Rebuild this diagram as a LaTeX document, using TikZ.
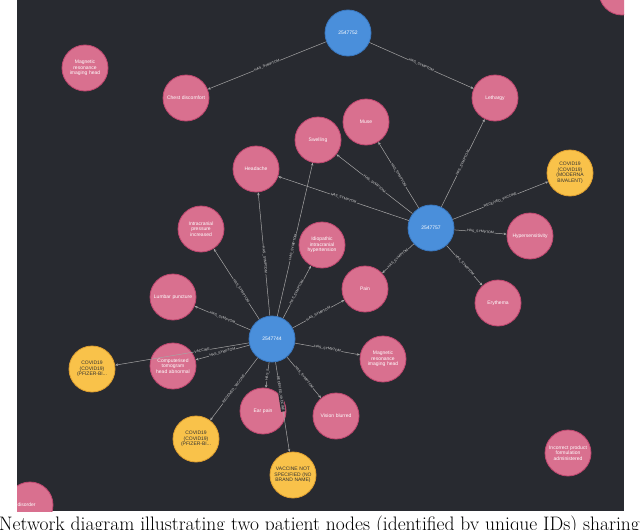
\documentclass[tikz,border=0pt]{standalone}
\usepackage{fontspec}
\setsansfont{Liberation Sans}
\hyphenpenalty=10000
\exhyphenpenalty=10000
\begin{document}
\begin{tikzpicture}[x=1pt,y=-1pt,
 every node/.style={inner sep=0pt},
 pk/.style={circle,minimum size=46pt,fill=pinkc,draw=pinkd,line width=0.8pt,text=white,font=\sffamily\fontsize{5}{5.5}\selectfont,align=center,text width=40pt},
 bl/.style={circle,minimum size=46pt,fill=bluec,draw=blued,line width=0.8pt,text=white,font=\sffamily\fontsize{5}{5.5}\selectfont},
 yl/.style={circle,minimum size=46pt,fill=yelc,draw=yeld,line width=0.8pt,text=black!80,font=\sffamily\fontsize{5}{5.5}\selectfont,align=center,text width=40pt},
 ed/.style={draw=gray!70,line width=0.5pt,-{Stealth[length=3pt,width=2.5pt]}},
 lb/.style={font=\sffamily\fontsize{3.5}{4}\selectfont,text=white!85!black,fill=bgc,inner sep=0.6pt,sloped}]
\hyphenpenalty=10000
\definecolor{bgc}{HTML}{282A30}
\definecolor{pinkc}{HTML}{D9708F}
\definecolor{pinkd}{HTML}{C04870}
\definecolor{bluec}{HTML}{4A8FDB}
\definecolor{blued}{HTML}{3A78C0}
\definecolor{yelc}{HTML}{F9C24A}
\definecolor{yeld}{HTML}{E0A030}
\usetikzlibrary{arrows.meta}
\useasboundingbox (0,0) rectangle (640,530);
\clip (0,0) rectangle (640,530);
\fill[white] (0,0) rectangle (640,530);
\fill[bgc] (17,0) rectangle (624,511);
\begin{scope}
\clip (17,0) rectangle (624,511);
\node[pk] (tr) at (622,-8) {};
\node[pk] (bleft) at (30,505) {\hspace*{-14pt}ral disorder};
\end{scope}
\node[bl] (a) at (348,33) {2547752};
\node[bl] (b) at (431,228) {2547757};
\node[bl] (c) at (272,339) {2547744};
\node[pk] (chest) at (186,98) {Chest discomfort};
\node[pk] (leth) at (495,98) {Lethargy};
\node[pk] (mri1) at (85,68) {Magnetic resonance imaging head};
\node[pk] (muse) at (366,122) {Muse};
\node[pk] (swel) at (318,140) {Swelling};
\node[pk] (head) at (256,169) {Headache};
\node[yl] (mod) at (570,173) {COVID19 (COVID19) (MODERNA BIVALENT)};
\node[pk] (hyp) at (530,236) {Hypersensitivity};
\node[pk] (ery) at (498,303) {Erythema};
\node[pk] (icp) at (201,229) {Intracranial pressure increased};
\node[pk] (iih) at (322,245) {Idiopathic intracranial hypertension};
\node[pk] (pain) at (365,289) {Pain};
\node[pk] (lum) at (173,297) {Lumbar puncture};
\node[yl] (pf1) at (92,369) {COVID19 (COVID19) (PFIZER-BI...};
\node[pk] (ct) at (173,366) {Computerised tomogram head abnormal};
\node[pk] (mri2) at (383,359) {Magnetic resonance imaging head};
\node[pk] (ear) at (263,411) {Ear pain};
\node[pk] (vis) at (336,416) {Vision blurred};
\node[yl] (pf2) at (196,439) {COVID19 (COVID19) (PFIZER-BI...};
\node[yl] (vns) at (293,475) {VACCINE NOT SPECIFIED (NO BRAND NAME)};
\node[pk] (inc) at (568,453) {Incorrect product formulation administered};
% edges
\draw[ed] (a) -- node[lb]{HAS\_SYMPTOM} (chest);
\draw[ed] (a) -- node[lb]{HAS\_SYMPTOM} (leth);
\draw[ed] (b) -- node[lb]{HAS\_SYMPTOM} (leth);
\draw[ed] (b) -- node[lb]{HAS\_SYMPTOM} (muse);
\draw[ed] (b) -- node[lb]{HAS\_SYMPTOM} (swel);
\draw[ed] (b) -- node[lb]{HAS\_SYMPTOM} (head);
\draw[ed] (b) -- node[lb]{RECEIVED\_VACCINE} (mod);
\draw[ed] (b) -- node[lb]{HAS\_SYMPTOM} (hyp);
\draw[ed] (b) -- node[lb]{HAS\_SYMPTOM} (ery);
\draw[ed] (b) -- node[lb]{HAS\_SYMPTOM} (pain);
\draw[ed] (c) -- node[lb,pos=0.4]{HAS\_SYMPTOM} (icp);
\draw[ed] (c) -- node[lb,pos=0.45]{HAS\_SYMPTOM} (head);
\draw[ed] (c) -- node[lb,pos=0.45]{HAS\_SYMPTOM} (swel);
\draw[ed] (c) -- node[lb]{HAS\_SYMPTOM} (iih);
\draw[ed] (c) -- node[lb]{HAS\_SYMPTOM} (pain);
\draw[ed] (c) -- node[lb]{HAS\_SYMPTOM} (lum);
\draw[ed] (c) -- node[lb]{HAS\_SYMPTOM} (ct);
\draw[ed] (c) -- node[lb,pos=0.35]{VACCINE} (pf1);
\draw[ed] (c) -- node[lb]{HAS\_SYMPTOM} (mri2);
\draw[ed] (c) -- node[lb]{HAS\_SYMPTOM} (vis);
\draw[ed] (c) -- node[lb]{HAS\_S} (ear);
\draw[ed] (c) -- node[lb,pos=0.35]{RECEIVED\_VACCINE} (vns);
\draw[ed] (c) -- node[lb]{RECEIVED\_VACCINE} (pf2);
\node[anchor=base west,font=\fontsize{19.5}{19.5}\selectfont,inner sep=0pt] (cap) at (-1,530) {Network diagram illustrating two patient nodes (identified by unique IDs) sharing};
\end{tikzpicture}
\end{document}
